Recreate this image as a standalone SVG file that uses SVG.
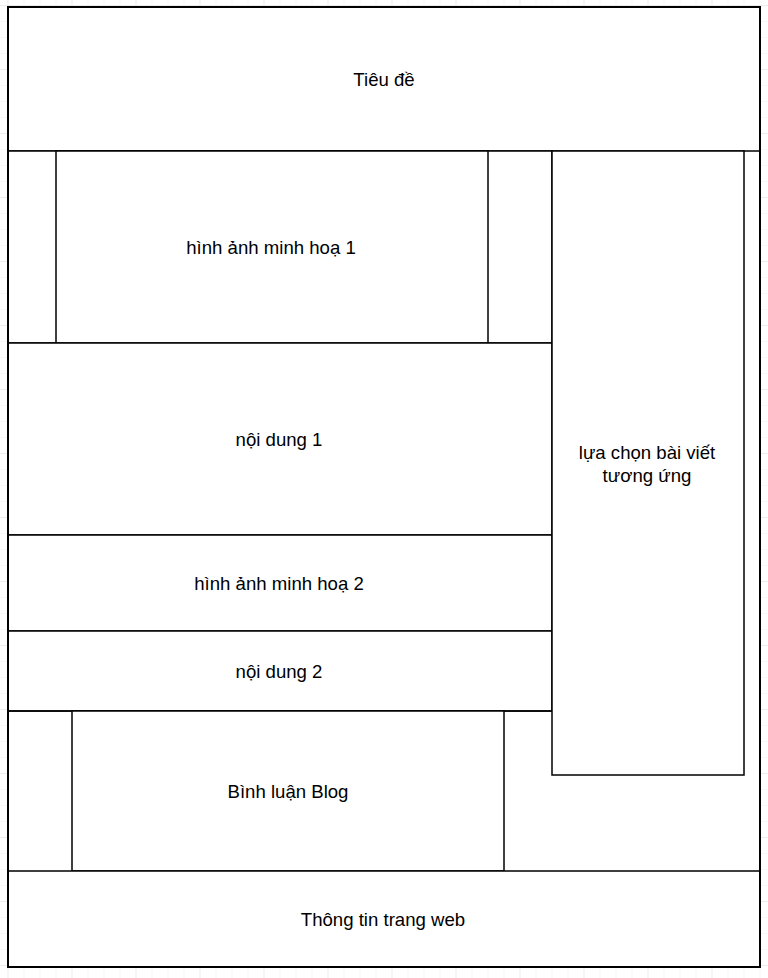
<svg xmlns="http://www.w3.org/2000/svg" width="768" height="978" viewBox="0 0 768 978">
<defs>
<pattern id="minor" x="7.5" y="5" width="16" height="16" patternUnits="userSpaceOnUse">
<path d="M0 0V16M0 0H16" fill="none" stroke="#efefef" stroke-width="1"/>
</pattern>
<pattern id="major" x="7.5" y="5" width="64" height="64" patternUnits="userSpaceOnUse">
<path d="M0 0V64M0 0H64" fill="none" stroke="#e2e2e2" stroke-width="1"/>
</pattern>
</defs>
<style>
.box{fill:#ffffff;stroke:#000000;stroke-width:1.5}
.line{fill:none;stroke:#000000;stroke-width:1.5}
.lbl{font-family:"Liberation Sans",Arial,Helvetica,sans-serif;font-size:18.6px;fill:#000000;text-anchor:middle;dominant-baseline:central}
</style>
<rect width="768" height="978" fill="#ffffff"/>
<rect width="768" height="978" fill="url(#minor)"/>
<rect width="768" height="978" fill="url(#major)"/>
<g id="outer"><rect class="box" x="8" y="7" width="752" height="960" style="stroke-width:2"/></g>
<g id="header"><rect class="box" x="8" y="7" width="752" height="144"/><text class="lbl" x="384" y="79">Tiêu đề</text></g>
<g id="image1-frame"><rect class="box" x="8" y="151" width="544" height="192"/></g>
<g id="image1"><rect class="box" x="56" y="151" width="432" height="192"/><text class="lbl" x="271" y="247">hình ảnh minh hoạ 1</text></g>
<g id="content1"><rect class="box" x="8" y="343" width="544" height="192"/><text class="lbl" x="279" y="439">nội dung 1</text></g>
<g id="image2"><rect class="box" x="8" y="535" width="544" height="96"/><text class="lbl" x="279" y="583">hình ảnh minh hoạ 2</text></g>
<g id="content2"><rect class="box" x="8" y="631" width="544" height="80"/><text class="lbl" x="279" y="671">nội dung 2</text></g>
<g id="comment-frame"><path class="line" d="M552 711H8V871"/></g>
<g id="comment"><rect class="box" x="72" y="711" width="432" height="160"/><text class="lbl" x="288" y="791">Bình luận Blog</text></g>
<g id="sidebar"><rect class="box" x="552" y="151" width="192" height="624"/><text class="lbl" x="647" y="452">lựa chọn bài viết</text><text class="lbl" x="647" y="475">tương ứng</text></g>
<g id="footer"><rect class="box" x="8" y="871" width="752" height="96"/><text class="lbl" x="383" y="919">Thông tin trang web</text></g>
<g id="border-top"><rect x="8" y="7" width="752" height="960" fill="none" stroke="#000" stroke-width="2"/></g>
<g id="connectors"></g>
</svg>
